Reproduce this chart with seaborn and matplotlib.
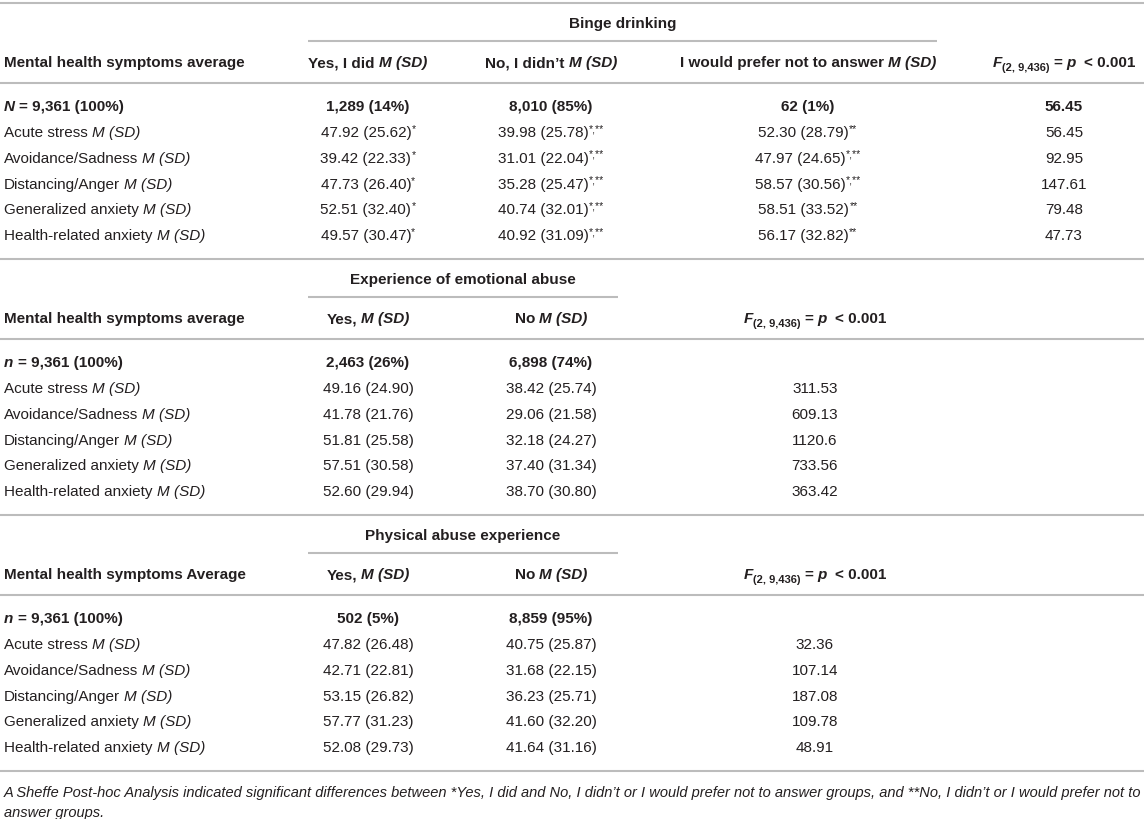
import matplotlib
matplotlib.use("Agg")
import matplotlib.pyplot as plt
from matplotlib import font_manager
import seaborn as sns

# ---- table values ----
symptoms = ["Acute stress", "Avoidance/Sadness", "Distancing/Anger",
            "Generalized anxiety", "Health-related anxiety"]

binge_groups = ["Yes, I did ", "No, I didn\u2019t ", "I would prefer not to answer "]
binge_n = ["1,289 (14%)", "8,010 (85%)", "62 (1%)"]
binge_yes_m = [47.92, 39.42, 47.73, 52.51, 49.57]
binge_yes_sd = [25.62, 22.33, 26.40, 32.40, 30.47]
binge_yes_sig = ["*", "*", "*", "*", "*"]
binge_no_m = [39.98, 31.01, 35.28, 40.74, 40.92]
binge_no_sd = [25.78, 22.04, 25.47, 32.01, 31.09]
binge_no_sig = ["*,**", "*,**", "*,**", "*,**", "*,**"]
binge_na_m = [52.30, 47.97, 58.57, 58.51, 56.17]
binge_na_sd = [28.79, 24.65, 30.56, 33.52, 32.82]
binge_na_sig = ["**", "*,**", "*,**", "**", "**"]
binge_f_total = 56.45
binge_f = [56.45, 92.95, 147.61, 79.48, 47.73]

emo_n = ["2,463 (26%)", "6,898 (74%)"]
emo_yes_m = [49.16, 41.78, 51.81, 57.51, 52.60]
emo_yes_sd = [24.90, 21.76, 25.58, 30.58, 29.94]
emo_no_m = [38.42, 29.06, 32.18, 37.40, 38.70]
emo_no_sd = [25.74, 21.58, 24.27, 31.34, 30.80]
emo_f = [311.53, 609.13, 1120.6, 733.56, 363.42]

phys_n = ["502 (5%)", "8,859 (95%)"]
phys_yes_m = [47.82, 42.71, 53.15, 57.77, 52.08]
phys_yes_sd = [26.48, 22.81, 26.82, 31.23, 29.73]
phys_no_m = [40.75, 31.68, 36.23, 41.60, 41.64]
phys_no_sd = [25.87, 22.15, 25.71, 32.20, 31.16]
phys_f = [32.36, 107.14, 187.08, 109.78, 48.91]

footnote = ["A Sheffe Post-hoc Analysis indicated significant differences between *Yes, I did and No, I didn\u2019t "
            "or I would prefer not to answer groups, and **No, I didn\u2019t or I would prefer not to",
            "answer groups."]

sns.set_theme(style="white")
plt.rcParams['font.family'] = ['Liberation Sans', 'DejaVu Sans']

W, H = 1144, 819
fig = plt.figure(figsize=(W / 100, H / 100), dpi=100)
ax = fig.add_axes([0, 0, 1, 1])
ax.set_xlim(0, W)
ax.set_ylim(H, 0)
ax.axis('off')
renderer = fig.canvas.get_renderer()

TXT = '#231f20'
RULE = '#bcbcbc'
FS = 11


def text_w(s, size, weight, style, family=None):
    t = ax.text(0, 0, s, fontsize=size, fontweight=weight, fontstyle=style,
                family=family or plt.rcParams['font.family'])
    w = t.get_window_extent(renderer).width
    t.remove()
    return w


def draw_runs(x, yc, runs, ha='center'):
    # runs: (text, weight, style, size, dy)
    pieces = []
    total = 0
    for s, weight, style, size, dy in runs:
        sp = 0.278 * size * 100 / 72
        lead = len(s) - len(s.lstrip(' '))
        trail = len(s) - len(s.rstrip(' '))
        core = s.strip(' ')
        w = text_w(core, size, weight, style) if core else 0
        pieces.append((core, weight, style, size, dy, lead * sp, w + (lead + trail) * sp))
        total += w + (lead + trail) * sp
    x0 = x - total / 2 if ha == 'center' else x
    base = yc + 5.2
    for core, weight, style, size, dy, off, w in pieces:
        if core:
            ax.text(x0 + off, base + dy, core, fontsize=size, fontweight=weight,
                    fontstyle=style, color=TXT, ha='left', va='baseline')
        x0 += w


def plain(s):
    return [(s, 'normal', 'normal', FS, 0)]


def bold(s):
    return [(s, 'bold', 'normal', FS, 0)]


def msd_head(lbl):
    return [(lbl, 'bold', 'normal', FS, 0), ("M (SD)", 'bold', 'italic', FS, 0)]


def cell(m, sd, sig=""):
    runs = [(f"{m:.2f} ({sd:.2f})", 'normal', 'normal', FS, 0)]
    if sig:
        runs.append((sig, 'normal', 'normal', 7.5, -5))
    return runs


F_HEAD = [("F", 'bold', 'italic', FS, 0), ("(2, 9,436)", 'bold', 'normal', 8, 3.5),
          (" = ", 'bold', 'normal', FS, 0), ("p", 'bold', 'italic', FS, 0),
          ("  < 0.001", 'bold', 'normal', FS, 0)]


def rule(y, x0=0, x1=W):
    ax.plot([x0, x1], [y, y], color=RULE, lw=1.5, solid_capstyle='butt')


ROW = 25.8
LEFT = 4


def section(T, title, sub_x1, cols, heads, n_label, n_vals, n_f, f_x, rows, f_vals, label_head):
    rule(T)
    draw_runs((308 + sub_x1) / 2, T + 20, bold(title))
    rule(T + 38, 308, sub_x1)
    draw_runs(LEFT, T + 59, bold(label_head), ha='left')
    for cx, lbl in zip(cols, heads):
        draw_runs(cx, T + 59, msd_head(lbl))
    draw_runs(f_x, T + 59, F_HEAD)
    rule(T + 80)
    y = T + 103
    draw_runs(LEFT, y, [(n_label, 'bold', 'italic', FS, 0), (" = 9,361 (100%)", 'bold', 'normal', FS, 0)], ha='left')
    for cx, v in zip(cols, n_vals):
        draw_runs(cx, y, bold(v))
    if n_f is not None:
        draw_runs(f_x, y, bold(f"{n_f:g}"))
    for i, s in enumerate(symptoms):
        y = T + 103 + (i + 1) * ROW
        draw_runs(LEFT, y, [(s + " ", 'normal', 'normal', FS, 0), ("M (SD)", 'normal', 'italic', FS, 0)], ha='left')
        for cx, r in zip(cols, rows):
            draw_runs(cx, y, r[i])
        draw_runs(f_x, y, plain(f"{f_vals[i]:g}"))


binge_rows = [
    [cell(m, sd, g) for m, sd, g in zip(binge_yes_m, binge_yes_sd, binge_yes_sig)],
    [cell(m, sd, g) for m, sd, g in zip(binge_no_m, binge_no_sd, binge_no_sig)],
    [cell(m, sd, g) for m, sd, g in zip(binge_na_m, binge_na_sd, binge_na_sig)],
]
section(3, "Binge drinking", 937, [368, 551, 808], binge_groups, "N", binge_n, binge_f_total,
        1064, binge_rows, binge_f, "Mental health symptoms average")

emo_rows = [[cell(m, sd) for m, sd in zip(emo_yes_m, emo_yes_sd)],
            [cell(m, sd) for m, sd in zip(emo_no_m, emo_no_sd)]]
section(259, "Experience of emotional abuse", 618, [368, 551], ["Yes, ", "No "], "n", emo_n, None,
        815, emo_rows, emo_f, "Mental health symptoms average")

phys_rows = [[cell(m, sd) for m, sd in zip(phys_yes_m, phys_yes_sd)],
             [cell(m, sd) for m, sd in zip(phys_no_m, phys_no_sd)]]
section(515, "Physical abuse experience", 618, [368, 551], ["Yes, ", "No "], "n", phys_n, None,
        815, phys_rows, phys_f, "Mental health symptoms Average")

rule(771)

# footnote, fitted to the table width
names = {f.name for f in font_manager.fontManager.ttflist}
foot_family = ['Liberation Sans Narrow', 'DejaVu Sans'] if 'Liberation Sans Narrow' in names else plt.rcParams['font.family']
w10 = text_w(footnote[0], 10, 'normal', 'italic', foot_family)
fs_foot = 10 * (W - 8) / w10
for k, line in enumerate(footnote):
    ax.text(LEFT, 793 + k * 19 + 4.5, line, fontsize=fs_foot, fontstyle='italic', family=foot_family,
            color=TXT, ha='left', va='baseline')

fig.savefig("out.png", dpi=100)
